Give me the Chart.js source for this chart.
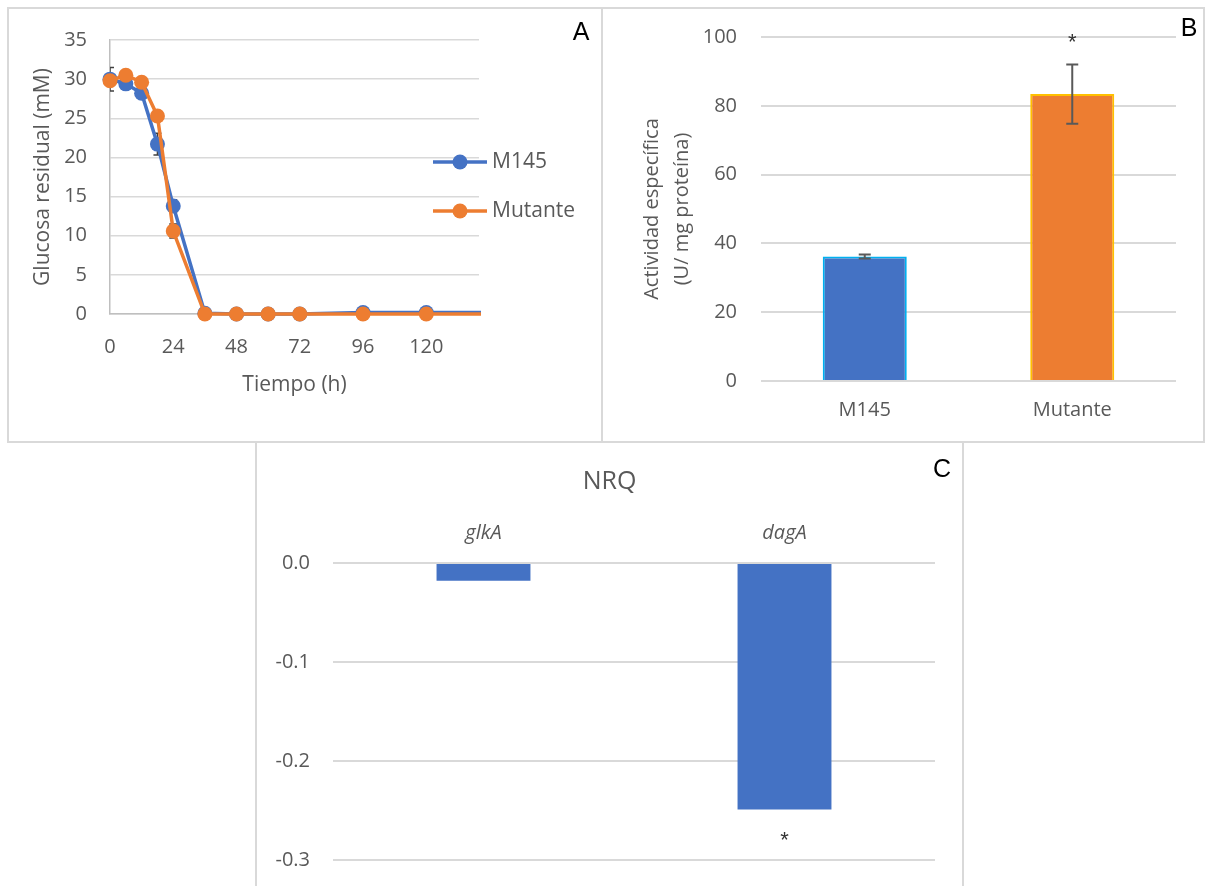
<!DOCTYPE html>
<html><head><meta charset="utf-8">
<script src="https://cdn.jsdelivr.net/npm/chart.js@4.4.1/dist/chart.umd.min.js"></script>
<style>
html,body{margin:0;padding:0;background:#fff;width:1206px;height:886px;overflow:hidden;position:relative;}
.panel{position:absolute;box-sizing:border-box;border:2px solid #d9d9d9;}
canvas{position:absolute;}
</style></head><body>
<div class="panel" style="left:7px;top:7px;width:596px;height:436px"></div>
<div class="panel" style="left:601px;top:7px;width:604px;height:436px"></div>
<div class="panel" style="left:255px;top:441px;width:709px;height:470px"></div>
<canvas id="cA" width="593" height="433" style="left:8px;top:8px"></canvas>
<canvas id="cB" width="602" height="433" style="left:602px;top:8px"></canvas>
<canvas id="cC" width="707" height="444" style="left:256px;top:442px"></canvas>
<script>
// ---- Data ----
const hours = [0, 6, 12, 18, 24, 36, 48, 60, 72, 96, 120, 144];
const glucoseM145 = [30.0, 29.4, 28.2, 21.7, 13.8, 0.1, 0.0, 0.0, 0.0, 0.2, 0.2, 0.2];
const glucoseM145Err = [1.5, 0.4, 0.4, 1.4, 0.8, 0.1, 0, 0, 0, 0.1, 0.1, 0];
const glucoseMutante = [29.8, 30.5, 29.6, 25.3, 10.6, 0.0, 0.0, 0.0, 0.0, 0.0, 0.0, 0.0];
const glucoseMutanteErr = [0.4, 0.3, 0.3, 0.6, 0.9, 0, 0, 0, 0, 0, 0, 0];
const timeTicks = [0, 24, 48, 72, 96, 120];
const strains = ['M145', 'Mutante'];
const activity = [36.2, 83.4];
const activityErr = [0.6, 8.6];
const activitySig = ['', '*'];
const genes = ['glkA', 'dagA'];
const nrq = [-0.018, -0.249];
const nrqSig = ['', '*'];

Chart.defaults.font.family = "'Open Sans', sans-serif";
Chart.defaults.font.size = 20;
Chart.defaults.color = '#595959';

const GRID = '#d9d9d9';

function fixSize(prop, val) {
  return s => {
    s[prop] = val;
    s.paddingTop = 0; s.paddingBottom = 0; s.paddingLeft = 0; s.paddingRight = 0;
  };
}

function drawErrors(chart, opts) {
  const ctx = chart.ctx, ca = chart.chartArea;
  ctx.save();
  ctx.beginPath(); ctx.rect(ca.left, ca.top, ca.right - ca.left, ca.bottom - ca.top); ctx.clip();
  ctx.strokeStyle = opts.color; ctx.lineWidth = opts.width;
  chart.data.datasets.forEach((ds, di) => {
    if (!ds.errors) return;
    const meta = chart.getDatasetMeta(di);
    const ys = chart.scales[meta.yAxisID];
    meta.data.forEach((el, i) => {
      const e = ds.errors[i]; if (!e) return;
      const v = ds.data[i]; const val = (typeof v === 'object') ? v.y : v;
      const y1 = ys.getPixelForValue(val + e), y2 = ys.getPixelForValue(val - e);
      const x = el.x, c = opts.cap;
      ctx.beginPath();
      ctx.moveTo(x, y1); ctx.lineTo(x, y2);
      ctx.moveTo(x - c, y1); ctx.lineTo(x + c, y1);
      ctx.moveTo(x - c, y2); ctx.lineTo(x + c, y2);
      ctx.stroke();
    });
  });
  ctx.restore();
}
const errorBars = {
  id: 'errorBars',
  beforeDatasetsDraw(chart, args, opts) { if (opts.under) drawErrors(chart, opts); },
  afterDatasetsDraw(chart, args, opts) { if (!opts.under) drawErrors(chart, opts); }
};

const sigMarks = {
  id: 'sigMarks',
  afterDatasetsDraw(chart, args, opts) {
    if (!opts.marks) return;
    const ctx = chart.ctx;
    const meta = chart.getDatasetMeta(0), ds = chart.data.datasets[0], ys = chart.scales.y;
    ctx.save();
    ctx.font = opts.font; ctx.fillStyle = opts.color;
    ctx.textAlign = 'center'; ctx.textBaseline = 'alphabetic';
    const m = ctx.measureText('*');
    const mid = (m.actualBoundingBoxAscent - m.actualBoundingBoxDescent) / 2;
    opts.marks.forEach((s, i) => {
      if (!s) return;
      const v = ds.data[i], e = ds.errors ? ds.errors[i] : 0;
      const y = v >= 0 ? ys.getPixelForValue(v + e) - opts.gap : ys.getPixelForValue(v - e) + opts.gap;
      ctx.fillText(s, meta.data[i].x, y + mid);
    });
    ctx.restore();
  }
};

const panelLetter = {
  id: 'panelLetter',
  afterDraw(chart, args, opts) {
    const ctx = chart.ctx;
    ctx.save();
    ctx.font = "25px 'Liberation Sans', Arial, sans-serif";
    ctx.fillStyle = '#000'; ctx.textAlign = 'center'; ctx.textBaseline = 'middle';
    ctx.fillText(opts.text, opts.x, opts.y);
    ctx.restore();
  }
};

const sideLegend = {
  id: 'sideLegend',
  afterDraw(chart, args, opts) {
    if (!opts.show) return;
    const ctx = chart.ctx;
    ctx.save();
    chart.data.datasets.forEach((ds, i) => {
      const y = opts.y0 + i * opts.dy;
      ctx.strokeStyle = ds.borderColor; ctx.lineWidth = 3.5;
      ctx.beginPath(); ctx.moveTo(opts.x0, y); ctx.lineTo(opts.x1, y); ctx.stroke();
      ctx.fillStyle = ds.backgroundColor;
      ctx.beginPath(); ctx.arc((opts.x0 + opts.x1) / 2, y, 7.5, 0, Math.PI * 2); ctx.fill();
      ctx.fillStyle = '#595959'; ctx.font = "21px 'Open Sans', sans-serif";
      ctx.textAlign = 'left'; ctx.textBaseline = 'middle';
      ctx.fillText(ds.label, opts.x1 + 5, y);
    });
    ctx.restore();
  }
};

// ---- Panel A ----
const XMAX_A = 140;
new Chart(document.getElementById('cA'), {
  type: 'line',
  data: {
    datasets: [
      { label: 'M145', data: hours.map((h, i) => ({ x: h, y: glucoseM145[i] })), errors: glucoseM145Err,
        borderColor: '#4472C4', backgroundColor: '#4472C4', order: 1,
        clip: { left: 12, top: 12, right: 2, bottom: 12 } },
      { label: 'Mutante', data: hours.map((h, i) => ({ x: h, y: glucoseMutante[i] })), errors: glucoseMutanteErr,
        borderColor: '#ED7D31', backgroundColor: '#ED7D31', order: 0,
        clip: { left: 12, top: 12, right: 2, bottom: 12 } }
    ]
  },
  options: {
    responsive: false, animation: false, events: [],
    layout: { padding: { left: 0, right: 122, top: 32, bottom: 37 } },
    elements: {
      line: { borderWidth: 3.5, tension: 0 },
      point: { radius: c => (c.parsed && c.parsed.x > XMAX_A) ? 0 : 7.5, borderWidth: 0, hoverRadius: 7.5 }
    },
    scales: {
      x: {
        type: 'linear', min: 0, max: XMAX_A,
        afterBuildTicks: s => { s.ticks = timeTicks.map(v => ({ value: v })); },
        ticks: { padding: 21 },
        grid: { display: false, drawTicks: false },
        border: { display: true, color: '#bfbfbf', width: 1.5 },
        title: { display: true, text: 'Tiempo (h)', font: { size: 21 }, padding: { top: 0, bottom: 6.4 } },
        afterFit: fixSize('height', 90)
      },
      y: {
        min: 0, max: 35,
        ticks: { stepSize: 5, padding: 23 },
        grid: { color: GRID, lineWidth: 1.5, drawTicks: false },
        border: { display: true, color: '#bfbfbf', width: 1.5 },
        title: { display: true, text: 'Glucosa residual (mM)', font: { size: 21 }, padding: { top: 22.4, bottom: 0 } },
        afterFit: fixSize('width', 102)
      }
    },
    plugins: {
      legend: { display: false }, tooltip: { enabled: false },
      errorBars: { under: true, color: '#404040', width: 1.5, cap: 4 },
      sideLegend: { show: true, x0: 425, x1: 479, y0: 154, dy: 49 },
      panelLetter: { text: 'A', x: 573, y: 25 }
    }
  },
  plugins: [errorBars, sideLegend, panelLetter]
});

// ---- Panel B ----
new Chart(document.getElementById('cB'), {
  type: 'bar',
  data: {
    labels: strains,
    datasets: [{
      data: activity, errors: activityErr,
      backgroundColor: ['#4472C4', '#ED7D31'], borderColor: ['#00B0F0', '#FFC000'], borderWidth: 2,
      categoryPercentage: 1, barPercentage: 0.405
    }]
  },
  options: {
    responsive: false, animation: false, events: [],
    layout: { padding: { left: 0, right: 28, top: 29, bottom: 0 } },
    scales: {
      x: {
        grid: { display: false, drawTicks: false }, border: { display: false },
        ticks: { padding: 17 },
        afterFit: fixSize('height', 60)
      },
      y: {
        min: 0, max: 100,
        ticks: { stepSize: 20, padding: 24 },
        grid: { color: GRID, lineWidth: 2, drawTicks: false }, border: { display: false },
        title: { display: true, text: ['Actividad específica', '(U/ mg proteína)'], font: { size: 20, lineHeight: 1.5 }, padding: { top: 35, bottom: 0 } },
        afterFit: fixSize('width', 159)
      }
    },
    plugins: {
      legend: { display: false }, tooltip: { enabled: false },
      errorBars: { under: false, color: '#595959', width: 2, cap: 6 },
      sigMarks: { marks: activitySig, font: "22px 'Liberation Sans', Arial, sans-serif", color: '#333', gap: 27 },
      panelLetter: { text: 'B', x: 587, y: 21 }
    }
  },
  plugins: [errorBars, sigMarks, panelLetter]
});

// ---- Panel C ----
new Chart(document.getElementById('cC'), {
  type: 'bar',
  data: {
    labels: genes,
    datasets: [{ data: nrq, backgroundColor: '#4472C4', categoryPercentage: 1, barPercentage: 0.312 }]
  },
  options: {
    responsive: false, animation: false, events: [],
    layout: { padding: { left: 0, right: 0, top: 0, bottom: 26 } },
    scales: {
      x: {
        position: 'top',
        grid: { display: false, drawTicks: false }, border: { display: false },
        ticks: { padding: 18, font: { size: 20, style: 'italic' } },
        afterFit: fixSize('height', 66)
      },
      y: {
        min: -0.3, max: 0,
        ticks: { stepSize: 0.1, padding: 23, callback: v => Math.abs(v) < 1e-9 ? '0.0' : Number(v).toFixed(1) },
        grid: { color: GRID, lineWidth: 2, drawTicks: false }, border: { display: false },
        afterFit: fixSize('width', 77)
      },
      yRight: {
        type: 'linear', position: 'right', display: true,
        grid: { display: false, drawTicks: false }, border: { display: false },
        ticks: { display: false },
        afterFit: fixSize('width', 28)
      }
    },
    plugins: {
      legend: { display: false }, tooltip: { enabled: false },
      title: { display: true, text: 'NRQ', font: { size: 25, weight: 'normal' }, color: '#595959', padding: { top: 25, bottom: 0 } },
      sigMarks: { marks: nrqSig, font: "22px 'Liberation Sans', Arial, sans-serif", color: '#333', gap: 26 },
      panelLetter: { text: 'C', x: 686, y: 28 }
    }
  },
  plugins: [sigMarks, panelLetter]
});
</script>
</body></html>
